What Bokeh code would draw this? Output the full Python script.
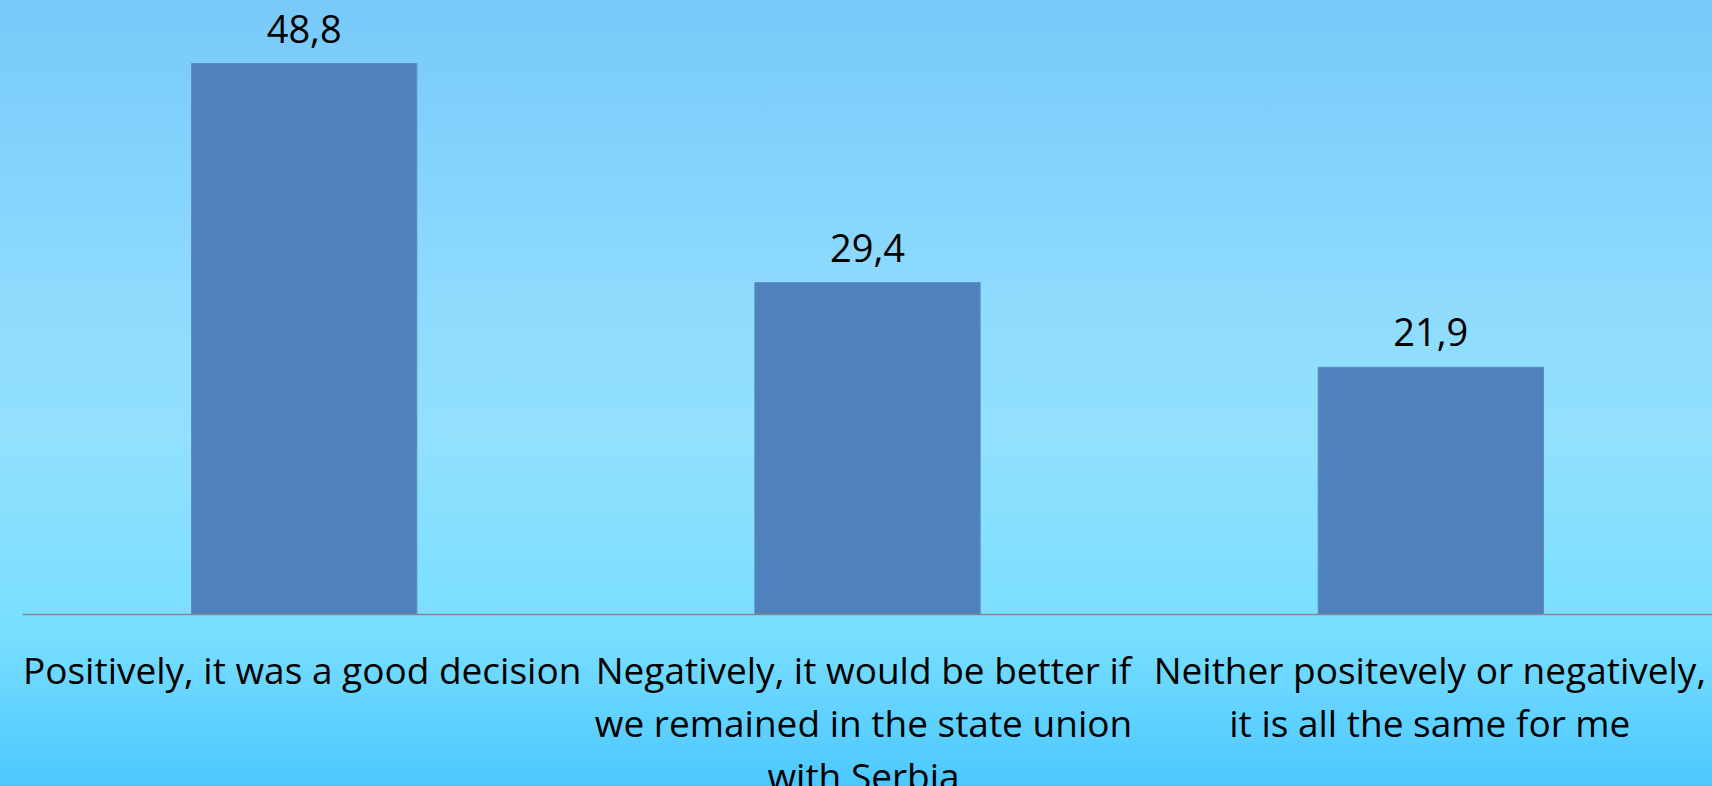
from bokeh.plotting import figure
from bokeh.models import ColumnDataSource, Range1d, Span, LabelSet
from bokeh.core.properties import value
from bokeh.embed import file_html
from bokeh.resources import INLINE

# ---- data ----
categories = [
    "Positively, it was a good decision",
    "Negatively, it would be better if we remained in the state union with Serbia",
    "Neither positevely or negatively, it is all the same for me",
]
tick_labels = [
    ["Positively, it was a good decision"],
    ["Negatively, it would be better if", "we remained in the state union", "with Serbia"],
    ["Neither positevely or negatively,", "it is all the same for me"],
]
percent = [48.8, 29.4, 21.9]
value_labels = [f"{v:.1f}".replace(".", ",") for v in percent]

FONT = "Open Sans"
W, H = 1712, 786
PX_PER_UNIT = 11.29     # vertical scale (pixels per percentage point)
BASE_Y = 614            # pixel row of the category axis inside the canvas
LABEL_SHIFT = [-2, -4, -1]   # small horizontal nudges of the category labels (px)

src = ColumnDataSource(dict(cat=categories, val=percent, lab=value_labels))

p = figure(
    x_range=categories,
    y_range=Range1d(-(H - BASE_Y) / PX_PER_UNIT, BASE_Y / PX_PER_UNIT),
    width=W, height=H,
    output_backend="svg", toolbar_location=None,
    min_border_left=22, min_border_right=0, min_border_top=0, min_border_bottom=0,
)
p.styles = {"background": "linear-gradient(to bottom, #78c9fa 0%, #8fdcfe 40%, #92e0fe 55%, #7adfff 80%, #4cc8fe 100%)"}
p.background_fill_color = None
p.border_fill_color = None
p.outline_line_color = None
p.grid.grid_line_color = None
p.xaxis.visible = False
p.yaxis.visible = False
p.x_range.range_padding = 0

p.vbar(x="cat", top="val", width=0.4, source=src,
       fill_color="#4f81bd", line_color="#5b8cc6", line_width=1)

p.add_layout(Span(location=0, dimension="width", line_color="#878787", line_width=1.5))

p.add_layout(LabelSet(x="cat", y="val", text="lab", source=src,
                      text_font=value(FONT), text_font_size="38px", text_color="#000000",
                      text_align="center", text_baseline="middle", y_offset=35))

# category labels (one text per line, placed below the axis)
lx, ly, lt, loff, lxoff = [], [], [], [], []
for cat, lines, sh in zip(categories, tick_labels, LABEL_SHIFT):
    for i, line in enumerate(lines):
        lx.append(cat)
        ly.append(0)
        lt.append(line)
        loff.append(-(55 + i * 53))
        lxoff.append(sh)
lab_src = ColumnDataSource(dict(x=lx, y=ly, t=lt, off=loff, xoff=lxoff))
p.add_layout(LabelSet(x="x", y="y", text="t", y_offset="off", x_offset="xoff", source=lab_src,
                      text_font=value(FONT), text_font_size="37px", text_color="#000000",
                      text_align="center", text_baseline="middle"))

open("out.html", "w").write(file_html(p, INLINE))
